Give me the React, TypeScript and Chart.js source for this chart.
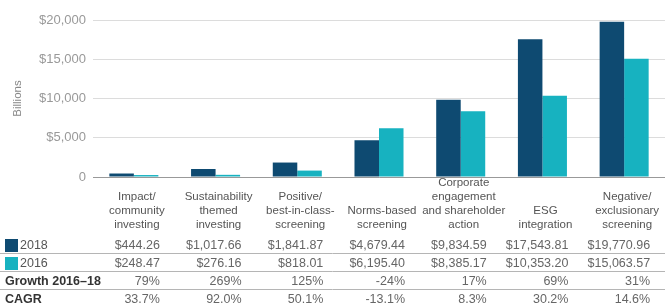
import React, { useEffect, useRef } from "react";
import { Chart, registerables } from "chart.js";

Chart.register(...registerables);

const categories: string[][] = [
  ["Impact/", "community", "investing"],
  ["Sustainability", "themed", "investing"],
  ["Positive/", "best-in-class-", "screening"],
  ["Norms-based", "screening"],
  ["Corporate", "engagement", "and shareholder", "action"],
  ["ESG", "integration"],
  ["Negative/", "exclusionary", "screening"],
];
const values2018: number[] = [444.26, 1017.66, 1841.87, 4679.44, 9834.59, 17543.81, 19770.96];
const values2016: number[] = [248.47, 276.16, 818.01, 6195.4, 8385.17, 10353.2, 15063.57];
const growth: number[] = [79, 269, 125, -24, 17, 69, 31];
const cagr: number[] = [33.7, 92.0, 50.1, -13.1, 8.3, 30.2, 14.6];
const yTicks: number[] = [0, 5000, 10000, 15000, 20000];

const COLOR_2018 = "#0e4a71";
const COLOR_2016 = "#17b2c0";
const FONT = "'Liberation Sans', Arial, sans-serif";

const money = (v: number) =>
  "$" + v.toLocaleString("en-US", { minimumFractionDigits: 2, maximumFractionDigits: 2 });

const tablePlugin = {
  id: "tablePlugin",
  afterDraw(chart: any) {
    const ctx: CanvasRenderingContext2D = chart.ctx;
    const x = chart.scales.x;
    const W = chart.width;
    ctx.save();
    // category labels
    ctx.font = `11.5px ${FONT}`;
    ctx.fillStyle = "#555";
    ctx.textAlign = "center";
    ctx.textBaseline = "middle";
    categories.forEach((lines, i) => {
      const cx = x.getPixelForValue(i) + 3;
      const n = lines.length;
      lines.forEach((ln, j) => {
        ctx.fillText(ln, cx, 224.5 - (n - 1 - j) * 13.8);
      });
    });
    // separator lines
    ctx.strokeStyle = "#b5b5b5";
    ctx.lineWidth = 1;
    [253.5, 271.5, 289.5].forEach((yy) => {
      ctx.beginPath();
      ctx.moveTo(0, yy);
      ctx.lineTo(W, yy);
      ctx.stroke();
    });
    // legend swatches
    ctx.fillStyle = COLOR_2018;
    ctx.fillRect(5, 239, 13, 13);
    ctx.fillStyle = COLOR_2016;
    ctx.fillRect(5, 257, 13, 13);
    ctx.textAlign = "left";
    ctx.font = `12.5px ${FONT}`;
    ctx.fillStyle = "#555";
    ctx.fillText("2018", 20, 245.5);
    ctx.fillText("2016", 20, 263.5);
    ctx.font = `bold 12.5px ${FONT}`;
    ctx.fillStyle = "#333";
    ctx.fillText("Growth 2016\u201318", 5, 281.5);
    ctx.fillText("CAGR", 5, 299.5);
    // values
    ctx.font = `12.5px ${FONT}`;
    ctx.fillStyle = "#666";
    ctx.textAlign = "right";
    categories.forEach((_, i) => {
      const rx = x.getPixelForValue(i) + 26;
      ctx.fillText(money(values2018[i]), rx, 245.5);
      ctx.fillText(money(values2016[i]), rx, 263.5);
      ctx.fillText(growth[i] + "%", rx, 281.5);
      ctx.fillText(cagr[i].toFixed(1) + "%", rx, 299.5);
    });
    ctx.restore();
  },
};

export default function App() {
  const ref = useRef<HTMLCanvasElement | null>(null);
  useEffect(() => {
    if (!ref.current) return;
    const chart = new Chart(ref.current, {
      type: "bar",
      data: {
        labels: categories.map((c) => c.join(" ")),
        datasets: [
          { label: "2018", data: values2018, backgroundColor: COLOR_2018 },
          { label: "2016", data: values2016, backgroundColor: COLOR_2016 },
        ],
      },
      options: {
        animation: false,
        responsive: false,
        devicePixelRatio: 1,
        layout: { padding: { top: 20, bottom: 120, left: 0, right: 0 } },
        plugins: { legend: { display: false }, tooltip: { enabled: false } },
        datasets: { bar: { categoryPercentage: 0.6, barPercentage: 1.0 } },
        scales: {
          x: {
            ticks: { display: false },
            grid: { display: false },
            border: { display: true, color: "#999", width: 1 },
          },
          y: {
            min: 0,
            max: 20000,
            afterBuildTicks: (scale: any) => {
              scale.ticks = yTicks.map((v) => ({ value: v }));
            },
            afterFit: (scale: any) => {
              scale.width = 93;
            },
            ticks: {
              color: "#999",
              font: { family: FONT, size: 13 },
              padding: 7,
              callback: (v: any) => (Number(v) === 0 ? "0" : "$" + Number(v).toLocaleString("en-US")),
            },
            grid: { color: "#dcdcdc", drawTicks: false },
            border: { display: false },
            title: {
              display: true,
              text: "Billions",
              color: "#888",
              font: { family: FONT, size: 11.5 },
              padding: { top: 11, bottom: 0 },
            },
          },
        },
      },
      plugins: [tablePlugin],
    });
    return () => chart.destroy();
  }, []);
  return (
    <div style={{ position: "absolute", left: 0, top: 0, width: 665, height: 305, background: "#fff" }}>
      <canvas ref={ref} width={665} height={305} style={{ display: "block" }} />
    </div>
  );
}
